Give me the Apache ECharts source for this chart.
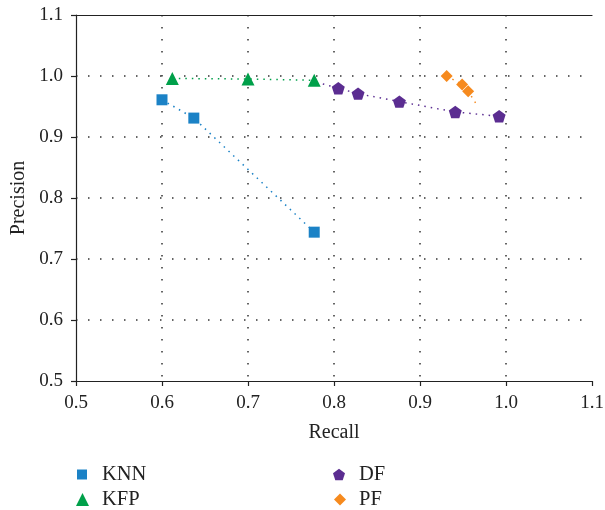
<!DOCTYPE html>
<html>
<head>
<meta charset="utf-8">
<script src="https://cdn.jsdelivr.net/npm/echarts@6/dist/echarts.min.js"></script>
<style>
  html, body { margin: 0; padding: 0; background: #fff; }
  #chart { width: 605px; height: 510px; }
</style>
</head>
<body>
<div id="chart"></div>
<script>
// Precision / recall points per method
const knnRecall = [0.600, 0.637, 0.777];
const knnPrecision = [0.961, 0.931, 0.744];

const kfpRecall = [0.612, 0.700, 0.777];
const kfpPrecision = [0.996, 0.995, 0.993];

// the first DF entry only anchors the connecting line (no marker)
const dfRecall = [0.787, 0.805, 0.828, 0.876, 0.941, 0.992];
const dfPrecision = [0.987, 0.980, 0.971, 0.958, 0.941, 0.934];
const dfMarked = [false, true, true, true, true, true];

// the last PF entry only ends the connecting line (no marker)
const pfRecall = [0.931, 0.949, 0.956, 0.965];
const pfPrecision = [1.000, 0.986, 0.975, 0.955];
const pfMarked = [true, true, true, false];

const axisTicks = [0.5, 0.6, 0.7, 0.8, 0.9, 1.0, 1.1];

const FONT = '"Liberation Serif", "DejaVu Serif", serif';
const PENTAGON = 'path://M0,-100 L95.1,-30.9 L58.8,80.9 L-58.8,80.9 L-95.1,-30.9 Z';

const COLORS = { KNN: '#1b82c6', KFP: '#00a04a', DF: '#5b2d91', PF: '#f68a1e' };
const SYMBOLS = { KNN: 'rect', KFP: 'triangle', DF: PENTAGON, PF: 'diamond' };

function pairs(xs, ys, marked) {
  return xs.map((x, i) => {
    const item = { value: [x, ys[i]] };
    if (marked && !marked[i]) item.symbol = 'none';
    return item;
  });
}

function makeSeries(name, xs, ys, marked, size) {
  const color = COLORS[name];
  return {
    name: name,
    type: 'line',
    data: pairs(xs, ys, marked),
    symbol: SYMBOLS[name],
    symbolSize: size,
    symbolKeepAspect: true,
    showAllSymbol: true,
    color: color,
    itemStyle: { color: color },
    lineStyle: { color: color, width: 1.5, type: [1.5, 5] },
    emphasis: { disabled: true },
    animation: false
  };
}

// one legend block per entry, laid out in two columns
function legendEntry(name, left, top, size, gap) {
  return {
    left: left, top: top,
    padding: 0,
    itemWidth: size, itemHeight: size,
    data: [{ name: name, icon: SYMBOLS[name], itemStyle: { color: COLORS[name] } }],
    textStyle: { color: '#222', fontFamily: FONT, fontSize: 20.5, padding: [0, 0, 0, gap] }
  };
}

const chart = echarts.init(document.getElementById('chart'), null, { renderer: 'canvas' });

const gridLine = {
  show: true, showMinLine: false, showMaxLine: false,
  lineStyle: { color: '#333', width: 1.5, type: [1.5, 10.5] }
};
const tickLabel = { color: '#222', fontFamily: FONT, fontSize: 19 };
const axisName = { color: '#222', fontFamily: FONT, fontSize: 20 };
const solid = { color: '#222', width: 1.2 };

chart.setOption({
  backgroundColor: '#fff',
  animation: false,
  grid: { left: 76, right: 13, top: 15, bottom: 129, containLabel: false, outerBoundsMode: 'none' },
  xAxis: [{
    type: 'value',
    min: axisTicks[0], max: axisTicks[axisTicks.length - 1], interval: 0.1,
    name: 'Recall',
    nameLocation: 'middle',
    nameGap: 42,
    nameTextStyle: axisName,
    axisLine: { show: true, onZero: false, lineStyle: solid },
    axisTick: { show: true, length: 5, lineStyle: solid },
    axisLabel: Object.assign({ margin: 13, formatter: v => v.toFixed(1) }, tickLabel),
    splitLine: gridLine
  }, {
    type: 'value',
    position: 'top',
    min: axisTicks[0], max: axisTicks[axisTicks.length - 1], interval: 0.1,
    axisLine: { show: true, onZero: false, lineStyle: solid },
    axisTick: { show: false },
    axisLabel: { show: false },
    splitLine: { show: false }
  }],
  yAxis: {
    type: 'value',
    min: axisTicks[0], max: axisTicks[axisTicks.length - 1], interval: 0.1,
    name: 'Precision',
    nameLocation: 'middle',
    nameGap: 47,
    nameTextStyle: axisName,
    axisLine: { show: true, onZero: false, lineStyle: solid },
    axisTick: { show: true, length: 5, lineStyle: solid },
    axisLabel: Object.assign({ margin: 13, formatter: v => v.toFixed(1) }, tickLabel),
    splitLine: gridLine
  },
  legend: [
    legendEntry('KNN', 77, 464, 10, 10),
    legendEntry('KFP', 76, 489, 13, 8),
    legendEntry('DF', 333, 464, 12, 9),
    legendEntry('PF', 334, 489, 12, 8)
  ],
  series: [
    makeSeries('KNN', knnRecall, knnPrecision, null, 11),
    makeSeries('KFP', kfpRecall, kfpPrecision, null, 13),
    makeSeries('DF', dfRecall, dfPrecision, dfMarked, 13),
    makeSeries('PF', pfRecall, pfPrecision, pfMarked, 12)
  ]
});
</script>
</body>
</html>
